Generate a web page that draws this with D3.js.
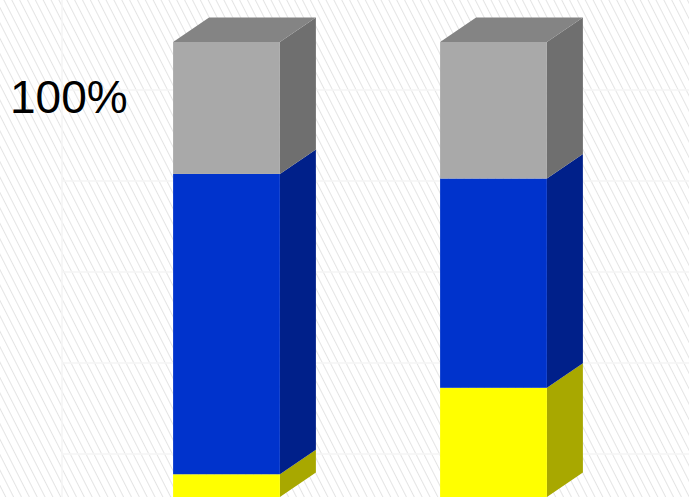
<!DOCTYPE html>
<html>
<head>
<meta charset="utf-8">
<script src="https://cdn.jsdelivr.net/npm/d3@7"></script>
<style>
  html, body { margin: 0; padding: 0; background: #fff; }
  svg { display: block; }
  .big-label { font-family: 'Liberation Sans', Arial, Helvetica, sans-serif; }
</style>
</head>
<body>
<div id="chart"></div>
<script>
// 3D 100% stacked columns
const categories = ['Bar 1', 'Bar 2'];
const yellowValues = [5, 24];
const blueValues = [66, 46];
const greyValues = [29, 30];
const gridTicks = [0, 20, 40, 60, 80, 100];

const width = 689;
const height = 497;

// depth offsets for the bars and for the back wall
const depth = {dx: 36, dy: -24.5};
const wall = {dx: 63, dy: -43, x: 62};

const colors = {
    yellow: {front: '#ffff00', side: '#a8a800', top: '#d8d800'},
    blue: {front: '#0033cc', side: '#00208a', top: '#0028aa'},
    grey: {front: '#a9a9a9', side: '#6f6f6f', top: '#848484'}
};

const rows = categories.map((c, i) => ({
    cat: c, yellow: yellowValues[i], blue: blueValues[i], grey: greyValues[i]
}));
const keys = ['yellow', 'blue', 'grey'];
const series = d3.stack().keys(keys)(rows);

const svg = d3.select('#chart').append('svg')
    .attr('width', width)
    .attr('height', height);

// background hatch
const defs = svg.append('defs');
defs.append('pattern')
    .attr('id', 'hatch')
    .attr('patternUnits', 'userSpaceOnUse')
    .attr('width', 7).attr('height', 7)
    .attr('patternTransform', 'rotate(-27)')
    .append('line')
    .attr('x1', 3.5).attr('y1', 0).attr('x2', 3.5).attr('y2', 7)
    .attr('stroke', '#e4e4e4').attr('stroke-width', 1);

svg.append('rect').attr('width', width).attr('height', height).attr('fill', '#fff');
svg.append('rect').attr('width', width).attr('height', height).attr('fill', 'url(#hatch)');

const x = d3.scaleBand().domain(categories).range([93, 627]).paddingInner(0.6).paddingOuter(0.3);
const y = d3.scaleLinear().domain([0, 100]).range([497, 42]);

// back wall gridlines (very faint)
const grid = svg.append('g').attr('stroke', '#f4f4f4').attr('stroke-width', 1.5).attr('fill', 'none');
grid.selectAll('line.h')
    .data(gridTicks)
    .join('line')
    .attr('class', 'h')
    .attr('x1', wall.x).attr('x2', width)
    .attr('y1', d => y(d) + wall.dy).attr('y2', d => y(d) + wall.dy);
grid.append('line')
    .attr('x1', wall.x).attr('x2', wall.x)
    .attr('y1', y(100) + wall.dy).attr('y2', height);

// bars
const bw = x.bandwidth();
const barG = svg.append('g');
rows.forEach((r, i) => {
    const x0 = x(r.cat);
    const x1 = x0 + bw;
    series.forEach((s, k) => {
        const d = s[i];
        const yb = y(d[0]);
        const yt = y(d[1]);
        const c = colors[s.key];
        // side face
        barG.append('path')
            .attr('d', `M${x1},${yb}L${x1 + depth.dx},${yb + depth.dy}L${x1 + depth.dx},${yt + depth.dy}L${x1},${yt}Z`)
            .attr('fill', c.side);
        // front face
        barG.append('rect')
            .attr('x', x0).attr('y', yt)
            .attr('width', bw).attr('height', yb - yt)
            .attr('fill', c.front);
        // top face on the last segment
        if (k === series.length - 1) {
            barG.append('path')
                .attr('d', `M${x0},${yt}L${x0 + depth.dx},${yt + depth.dy}L${x1 + depth.dx},${yt + depth.dy}L${x1},${yt}Z`)
                .attr('fill', c.top);
        }
    });
});

svg.append('text')
    .attr('class', 'big-label')
    .attr('x', 10).attr('y', 113)
    .attr('font-size', 46)
    .attr('fill', '#000')
    .text('100%');
</script>
</body>
</html>
